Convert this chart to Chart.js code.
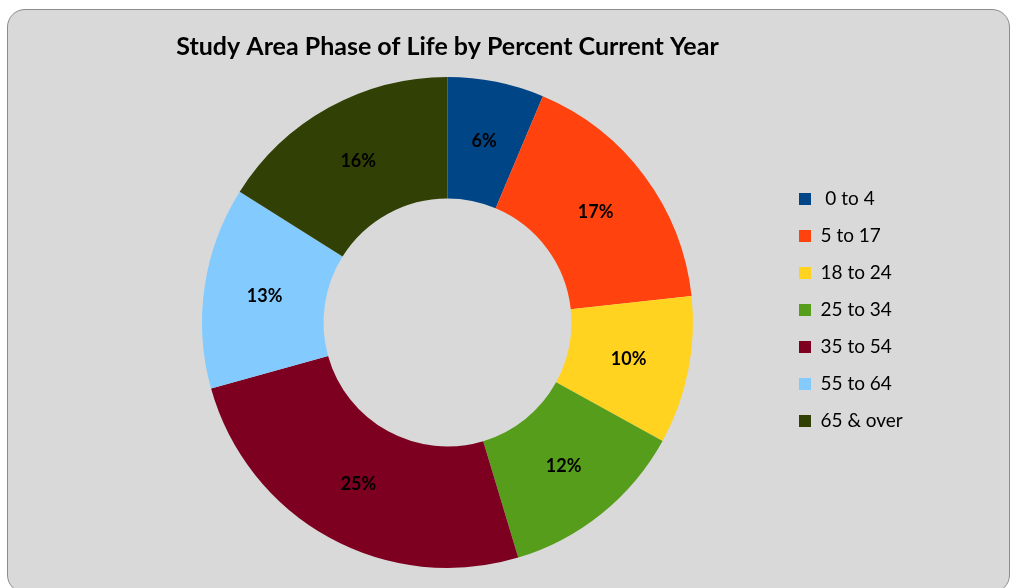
<!DOCTYPE html>
<html>
<head>
<meta charset="utf-8">
<script src="https://cdn.jsdelivr.net/npm/chart.js@4"></script>
<style>
  html, body { margin: 0; padding: 0; background: #fff; overflow: hidden; }
  #card {
    position: absolute; left: 7px; top: 9px; width: 1003px; height: 584px;
    background: #d9d9d9; border: 1px solid #8c8c8c; border-radius: 18px;
    box-sizing: border-box;
  }
  #wrap { position: absolute; left: 0; top: 0; width: 1010px; height: 588px; }
</style>
</head>
<body>
<div id="card"></div>
<div id="wrap"><canvas id="chart" width="1010" height="588"></canvas></div>
<script>
const ageGroups = [' 0 to 4', '5 to 17', '18 to 24', '25 to 34', '35 to 54', '55 to 64', '65 & over']
const sharePct = [6.35, 16.93, 9.73, 12.34, 25.31, 13.28, 16.06]
const sliceColors = ['#004586', '#ff420e', '#ffd320', '#579d1c', '#7e0021', '#83caff', '#314004']

const FONT = 'Lato'
const LEGEND_SIZE = 19

// legend sits at a fixed spot, so size the right padding from the widest label
const measure = document.createElement('canvas').getContext('2d')
measure.font = `${LEGEND_SIZE}px ${FONT}`
const widest = Math.max(...ageGroups.map(l => measure.measureText(l).width))
const legendLeft = 779
const legendWidth = 20 + 12 + LEGEND_SIZE / 2 + widest + 10
const padRight = Math.max(0, 1010 - legendLeft - legendWidth)

const sliceLabels = {
  id: 'sliceLabels',
  afterDatasetsDraw(chart) {
    const { ctx } = chart
    const data = chart.data.datasets[0].data
    const total = data.reduce((a, b) => a + b, 0)
    ctx.save()
    ctx.font = `bold 18px ${FONT}`
    ctx.fillStyle = '#000'
    ctx.textAlign = 'center'
    ctx.textBaseline = 'middle'
    chart.getDatasetMeta(0).data.forEach((arc, i) => {
      const p = arc.getCenterPoint()
      ctx.fillText(Math.round(data[i] / total * 100) + '%', p.x, p.y)
    })
    ctx.restore()
  }
}

new Chart(document.getElementById('chart').getContext('2d'), {
  type: 'doughnut',
  data: {
    labels: ageGroups,
    datasets: [{
      data: sharePct,
      backgroundColor: sliceColors,
      borderWidth: 0
    }]
  },
  options: {
    responsive: false,
    animation: false,
    cutout: '50.5%',
    layout: {
      padding: { top: 52, bottom: 20, left: 114, right: padRight }
    },
    plugins: {
      title: {
        display: true,
        text: 'Study Area Phase of Life by Percent Current Year',
        color: '#000',
        fullSize: false,
        font: { family: FONT, size: 25, weight: 'bold', lineHeight: 1.2 },
        padding: { top: -20, bottom: 15 }
      },
      legend: {
        position: 'right',
        labels: {
          color: '#000',
          boxWidth: 12,
          boxHeight: 12,
          padding: 18,
          font: { family: FONT, size: LEGEND_SIZE }
        }
      },
      tooltip: { enabled: false }
    }
  },
  plugins: [sliceLabels]
})
</script>
</body>
</html>
